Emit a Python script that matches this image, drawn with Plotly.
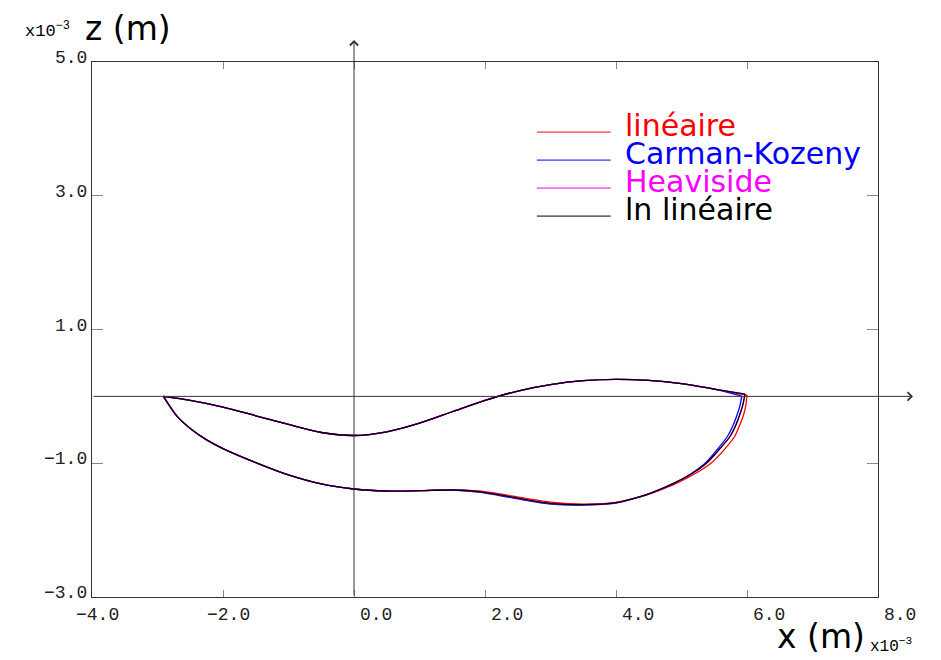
import plotly.graph_objects as go

# ---------------- data (units: x10^-3 m) ----------------
series_names = ["linéaire", "Carman-Kozeny", "Heaviside", "ln linéaire"]
series_colors = ["#ff0000", "#0000ff", "#ff00ff", "#000000"]

# upper free surface (shared part, left tip -> x = 5.5)
x_upper = [-2.91, -2.5, -2.0, -1.5, -1.0, -0.5, 0.0, 0.5, 1.0, 1.5, 2.0, 2.5, 3.0, 3.5, 4.0, 4.5, 5.0, 5.5]
z_upper = [0.0, -0.06, -0.16, -0.29, -0.42, -0.54, -0.585, -0.53, -0.40, -0.23, -0.06, 0.08, 0.175, 0.235, 0.255, 0.24, 0.19, 0.11]

# right tip of each series
x_tip_lin, z_tip_lin = 6.0, 0.02
x_tip_ck, z_tip_ck = 5.92, 0.005
x_tip_hv, z_tip_hv = 5.97, 0.035
x_tip_ln, z_tip_ln = 5.97, 0.035

# lower boundary, from the right tip back to the left tip
x_lower_lin = [6.0, 5.98, 5.94, 5.88, 5.81, 5.65, 5.45, 5.20, 4.92, 4.62, 4.38, 4.0, 3.5, 3.0, 2.6, 2.2, 1.9, 1.5, 1.0, 0.5, 0.0, -0.5, -1.0, -1.5, -2.0, -2.25, -2.5, -2.7, -2.91]
z_lower_lin = [0.02, -0.15, -0.30, -0.45, -0.60, -0.80, -1.00, -1.16, -1.30, -1.42, -1.50, -1.585, -1.61, -1.58, -1.52, -1.455, -1.415, -1.395, -1.41, -1.415, -1.385, -1.31, -1.175, -0.99, -0.78, -0.65, -0.48, -0.30, 0.0]

x_lower_ck = [5.92, 5.89, 5.84, 5.78, 5.70, 5.54, 5.36, 5.14, 4.88, 4.6, 4.37, 4.0, 3.5, 3.0, 2.6, 2.2, 1.9, 1.5, 1.0, 0.5, 0.0, -0.5, -1.0, -1.5, -2.0, -2.25, -2.5, -2.7, -2.91]
z_lower_ck = [0.005, -0.15, -0.30, -0.45, -0.60, -0.80, -1.00, -1.16, -1.30, -1.42, -1.50, -1.595, -1.625, -1.61, -1.55, -1.48, -1.43, -1.40, -1.41, -1.415, -1.385, -1.31, -1.175, -0.99, -0.78, -0.65, -0.48, -0.30, 0.0]

x_lower_hv = [5.97, 5.93, 5.88, 5.82, 5.74, 5.57, 5.38, 5.15, 4.88, 4.6, 4.37, 4.0, 3.5, 3.0, 2.6, 2.2, 1.9, 1.5, 1.0, 0.5, 0.0, -0.5, -1.0, -1.5, -2.0, -2.25, -2.5, -2.7, -2.91]
z_lower_hv = [0.035, -0.15, -0.30, -0.45, -0.60, -0.80, -1.00, -1.16, -1.30, -1.42, -1.50, -1.59, -1.62, -1.60, -1.54, -1.47, -1.425, -1.40, -1.41, -1.415, -1.385, -1.31, -1.175, -0.99, -0.78, -0.65, -0.48, -0.30, 0.0]

x_lower_ln = [5.97, 5.93, 5.88, 5.82, 5.74, 5.57, 5.38, 5.15, 4.88, 4.6, 4.37, 4.0, 3.5, 3.0, 2.6, 2.2, 1.9, 1.5, 1.0, 0.5, 0.0, -0.5, -1.0, -1.5, -2.0, -2.25, -2.5, -2.7, -2.91]
z_lower_ln = [0.035, -0.15, -0.30, -0.45, -0.60, -0.80, -1.00, -1.16, -1.30, -1.42, -1.50, -1.59, -1.62, -1.60, -1.54, -1.47, -1.425, -1.40, -1.41, -1.415, -1.385, -1.31, -1.175, -0.99, -0.78, -0.65, -0.48, -0.30, 0.0]

x_tick_vals = [-4, -2, 0, 2, 4, 6, 8]
x_tick_text = ["−4.0", "−2.0", "0.0", "2.0", "4.0", "6.0", "8.0"]
z_tick_vals = [-3, -1, 1, 3, 5]
z_tick_text = ["−3.0", "−1.0", "1.0", "3.0", "5.0"]

# ---------------- figure ----------------
tips = [(x_tip_lin, z_tip_lin), (x_tip_ck, z_tip_ck), (x_tip_hv, z_tip_hv), (x_tip_ln, z_tip_ln)]
lowers = [(x_lower_lin, z_lower_lin), (x_lower_ck, z_lower_ck), (x_lower_hv, z_lower_hv), (x_lower_ln, z_lower_ln)]

fig = go.Figure()
for name, color, (xt, zt), (xl, zl) in zip(series_names, series_colors, tips, lowers):
    xs = x_upper + [xt] + [None] + xl
    zs = z_upper + [zt] + [None] + zl
    fig.add_trace(go.Scatter(
        x=xs, y=zs, mode="lines", name=name,
        line=dict(color=color, width=1.3, shape="spline", smoothing=0.8),
        connectgaps=False, showlegend=False, hoverinfo="skip"))

MONO = "Liberation Mono"
SANS = "DejaVu Sans"
annotations = []

# tick labels
for v, t in zip(x_tick_vals, x_tick_text):
    annotations.append(dict(x=v, xref="x", y=0, yref="paper", text=t, showarrow=False,
                            xanchor="center", yanchor="top",
                            xshift=(5 if v < 0 else 22), yshift=-6,
                            font=dict(family=MONO, size=18, color="#222")))
for v, t in zip(z_tick_vals, z_tick_text):
    annotations.append(dict(x=0, xref="paper", y=v, yref="y", text=t, showarrow=False,
                            xanchor="right", yanchor="middle", xshift=-3, yshift=4,
                            font=dict(family=MONO, size=18, color="#222")))

# axis titles
annotations += [
    dict(x=0, xref="paper", y=1, yref="paper", text="z (m)", showarrow=False,
         xanchor="left", yanchor="bottom", xshift=-9, yshift=12,
         font=dict(family=SANS, size=33, color="#000")),
    dict(x=0, xref="paper", y=1, yref="paper", text="x10<sup>−3</sup>", showarrow=False,
         xanchor="right", yanchor="bottom", xshift=-20, yshift=19,
         font=dict(family=MONO, size=17, color="#000")),
    dict(x=1, xref="paper", y=0, yref="paper", text="x (m)", showarrow=False,
         xanchor="right", yanchor="top", xshift=-11, yshift=-18,
         font=dict(family=SANS, size=33, color="#000")),
    dict(x=1, xref="paper", y=0, yref="paper", text="x10<sup>−3</sup>", showarrow=False,
         xanchor="left", yanchor="top", xshift=-10, yshift=-36,
         font=dict(family=MONO, size=16, color="#000")),
]

# axes through origin with arrow heads
annotations += [
    dict(x=0, xref="x", y=1.041, yref="y domain", ax=0, axref="x", ay=0, ayref="y domain",
         text="", showarrow=True, arrowhead=4, arrowsize=1.6, arrowwidth=1, arrowcolor="#333"),
    dict(x=1.0445, xref="x domain", y=0, yref="y", ax=0, axref="x domain", ay=0, ayref="y",
         text="", showarrow=True, arrowhead=4, arrowsize=1.6, arrowwidth=1, arrowcolor="#333"),
]

# legend (drawn manually for tight spacing)
leg_x0, leg_x1, leg_tx = 0.566, 0.660, 0.6756
leg_y0, leg_dy = 0.869, 28 / 535
shapes = []
for i, (name, color) in enumerate(zip(series_names, series_colors)):
    yy = leg_y0 - i * leg_dy
    shapes.append(dict(type="line", xref="paper", yref="paper", x0=leg_x0, x1=leg_x1,
                       y0=yy, y1=yy, line=dict(color=color, width=1)))
    annotations.append(dict(x=leg_tx, xref="paper", y=yy, yref="paper", text=name,
                            showarrow=False, xanchor="left", yanchor="middle", yshift=7,
                            font=dict(family=SANS, size=30, color=color)))

axis_common = dict(showgrid=False, zeroline=False, showline=True, mirror="allticks",
                   linecolor="#333", linewidth=1, ticks="inside", tickcolor="#888",
                   tickwidth=1, showticklabels=False)

# the page body adds an 8 px offset, so margins are set relative to it
fig.update_layout(
    width=941, height=660,
    margin=dict(l=84, r=71, t=54, b=71),
    paper_bgcolor="white", plot_bgcolor="white",
    xaxis=dict(range=[-4, 8], tickvals=x_tick_vals, ticklen=7, **axis_common),
    yaxis=dict(range=[-3, 5], tickvals=z_tick_vals, ticklen=11, **axis_common),
    annotations=annotations, shapes=shapes, showlegend=False,
)

fig.write_html("out.html")
